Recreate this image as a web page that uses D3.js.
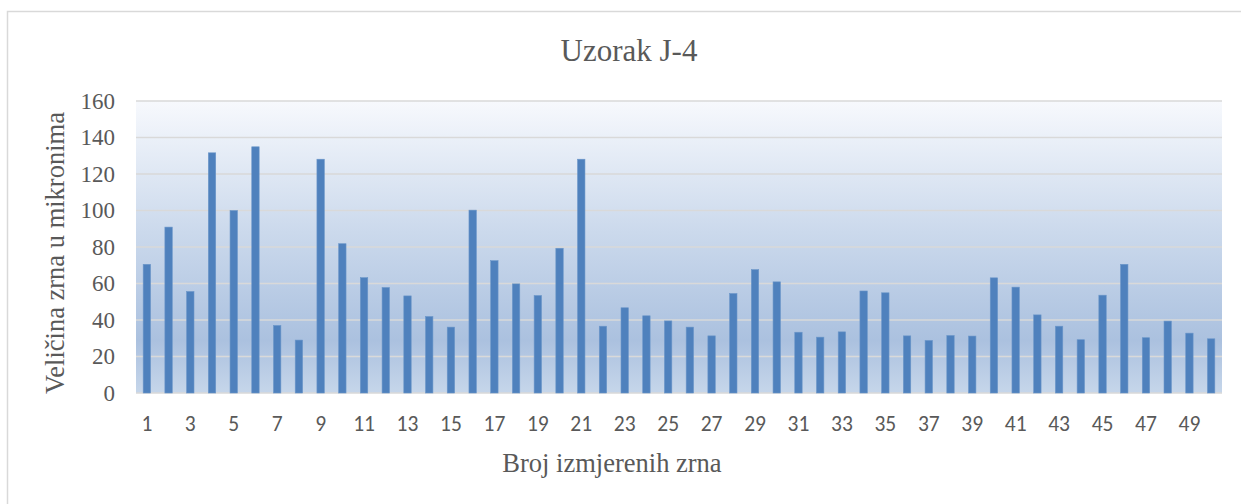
<!DOCTYPE html>
<html>
<head>
<meta charset="utf-8">
<script src="https://cdn.jsdelivr.net/npm/d3@7"></script>
<style>
  body { margin: 0; background: #fff; }
  svg { display: block; }
</style>
</head>
<body>
<svg id="barchart"></svg>
<script>
// data
var grains = d3.range(1, 51);
var sizes = [70.5, 90.9, 55.6, 131.6, 100.0, 134.9, 37.0, 29.0, 128.1, 81.8,
             63.2, 57.8, 53.2, 41.9, 36.1, 100.2, 72.5, 59.8, 53.4, 79.3,
             128.1, 36.6, 46.7, 42.3, 39.5, 36.1, 31.3, 54.5, 67.6, 60.9,
             33.3, 30.6, 33.5, 55.9, 54.9, 31.3, 28.8, 31.5, 31.2, 63.1,
             58.0, 42.8, 36.6, 29.2, 53.6, 70.5, 30.3, 39.4, 32.8, 29.7];
var yTicks = [0, 20, 40, 60, 80, 100, 120, 140, 160];
var xTickLabels = grains.filter(function(d) { return d % 2 === 1; });

var chartTitle = "Uzorak J-4";
var yTitle = "Veličina zrna u mikronima";
var xTitle = "Broj izmjerenih zrna";

// set the dimensions and margins of the graph
var W = 1241, H = 504;
var margin = {top: 101, right: 19, bottom: 111, left: 136},
width = W - margin.left - margin.right,
height = H - margin.top - margin.bottom;

var root = d3.select("#barchart")
.attr("width", W)
.attr("height", H);

// chart frame (left + top edge visible)
root.append("path")
.attr("d", "M7.5," + H + "V11.5H" + W)
.attr("fill", "none")
.attr("stroke", "#d9d9d9")
.attr("stroke-width", 1.5);

// background gradient
var grad = root.append("defs").append("linearGradient")
.attr("id", "bg")
.attr("x1", 0).attr("y1", 0).attr("x2", 0).attr("y2", 1);
grad.append("stop").attr("offset", "0%").attr("stop-color", "#f7f9fd");
grad.append("stop").attr("offset", "45%").attr("stop-color", "#cbd9ec");
grad.append("stop").attr("offset", "82%").attr("stop-color", "#abc1df");
grad.append("stop").attr("offset", "100%").attr("stop-color", "#c6d6ea");

var svg = root.append("g")
.attr("transform", "translate(" + margin.left + "," + margin.top + ")");

svg.append("rect")
.attr("width", width)
.attr("height", height)
.attr("fill", "url(#bg)");

// X axis
var x = d3.scaleBand()
.range([0, width])
.domain(grains)
.paddingInner(0.66)
.paddingOuter(0.33);

// Y axis
var y = d3.scaleLinear()
.domain([0, 160])
.range([height, 0]);

// gridlines
svg.append("g")
.selectAll("line")
.data(yTicks)
.enter()
.append("line")
.attr("x1", 0)
.attr("x2", width)
.attr("y1", function(d) { return y(d); })
.attr("y2", function(d) { return y(d); })
.attr("stroke", "#d9d9d9")
.attr("stroke-width", 1.5);

// Bars
svg.selectAll("rect.bar")
.data(sizes)
.enter()
.append("rect")
.attr("class", "bar")
.attr("x", function(d, i) { return x(grains[i]); })
.attr("width", x.bandwidth())
.attr("y", function(d) { return y(d); })
.attr("height", function(d) { return y(0) - y(d); })
.attr("fill", "#4f81bd")
.attr("stroke", "#6b96c9")
.attr("stroke-width", 0.6);

// axis labels
var yAxis = svg.append("g")
.call(d3.axisLeft(y).tickValues(yTicks).tickSize(0).tickPadding(21));
yAxis.select(".domain").remove();
yAxis.selectAll("text")
.attr("font-family", "'Liberation Serif', 'Times New Roman', serif")
.attr("font-size", "23px")
.attr("fill", "#595959");

var xAxis = svg.append("g")
.attr("transform", "translate(0," + height + ")")
.call(d3.axisBottom(x).tickValues(xTickLabels).tickSize(0).tickPadding(23));
xAxis.select(".domain").remove();
xAxis.selectAll("text")
.attr("font-family", "Carlito, 'Open Sans', 'Liberation Sans', sans-serif")
.attr("font-size", "21.5px")
.attr("fill", "#595959");

// titles
root.append("text")
.attr("x", 629)
.attr("y", 61)
.attr("text-anchor", "middle")
.attr("font-family", "'Liberation Serif', 'Times New Roman', serif")
.attr("font-size", "31px")
.attr("fill", "#595959")
.text(chartTitle);

root.append("text")
.attr("x", 612)
.attr("y", 472)
.attr("text-anchor", "middle")
.attr("font-family", "'Liberation Serif', 'Times New Roman', serif")
.attr("font-size", "26.5px")
.attr("fill", "#595959")
.text(xTitle);

root.append("text")
.attr("transform", "translate(64,253) rotate(-90)")
.attr("text-anchor", "middle")
.attr("font-family", "'Liberation Serif', 'Times New Roman', serif")
.attr("font-size", "26.5px")
.attr("fill", "#595959")
.text(yTitle);
</script>
</body>
</html>
